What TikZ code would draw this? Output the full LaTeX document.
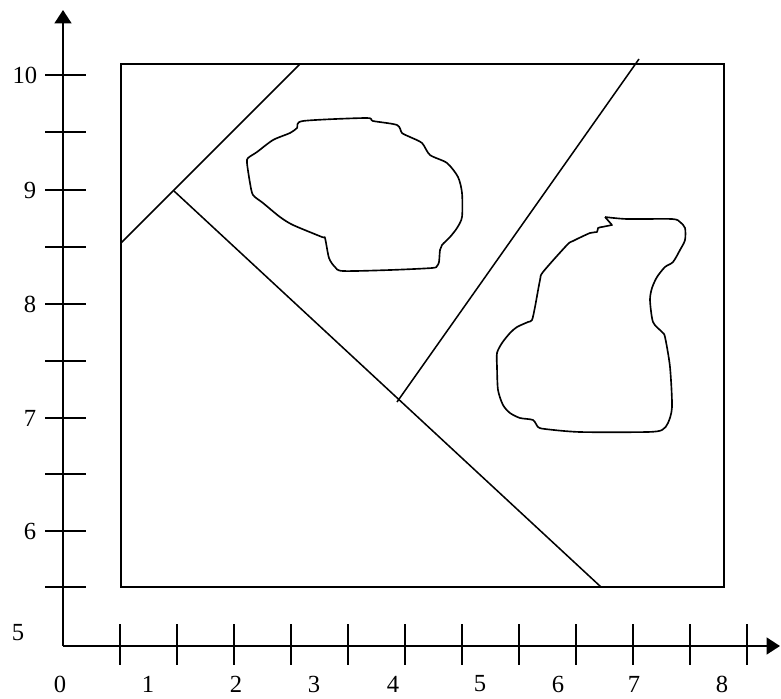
\documentclass[tikz,border=0pt]{standalone}
\usepackage{fontspec}
\setmainfont{Liberation Serif}
\usetikzlibrary{arrows.meta}
\begin{document}
\begin{tikzpicture}[x=0.03cm,y=-0.03cm,
  axisline/.style={line width=2pt,-{Triangle[length=0.4cm,width=0.5cm]}},
  tickline/.style={line width=1.4pt},
  thinline/.style={line width=1.3pt},
  blobline/.style={line width=1.4pt,line join=round},
  lbl/.style={inner sep=0pt,font=\fontsize{21}{25}\selectfont}]
\useasboundingbox (0,0) rectangle (781,699);
% axes
\coordinate (O) at (63,646);
\coordinate (Ytip) at (63,10);
\coordinate (Xtip) at (780,646);
\draw[axisline] (O) -- (Ytip);
\draw[axisline] (O) -- (Xtip);
% y ticks
\foreach \y in {75,132,190,247,304,361,418,474,531,587}
  \draw[tickline] (45,\y) -- (86,\y);
% x ticks
\foreach \x in {120,177,234,291,348,405,462,519,576,633,690,747}
  \draw[tickline] (\x,624) -- (\x,665);
% y labels
\node[lbl] (y10) at (25,75) {10};
\node[lbl] (y9) at (30,190) {9};
\node[lbl] (y8) at (30,304) {8};
\node[lbl] (y7) at (30,418) {7};
\node[lbl] (y6) at (30,531) {6};
\node[lbl] (y5) at (18,633) {5};
% x labels
\node[lbl] (x0) at (60,684) {0};
\node[lbl] (x1) at (148,684) {1};
\node[lbl] (x2) at (236,684) {2};
\node[lbl] (x3) at (314,684) {3};
\node[lbl] (x4) at (393,684) {4};
\node[lbl] (x5) at (480,684) {5};
\node[lbl] (x6) at (558,684) {6};
\node[lbl] (x7) at (634,684) {7};
\node[lbl] (x8) at (722,684) {8};
% rectangle
\draw[thinline] (121,64) rectangle (724,587);
% lines
\coordinate (A1) at (121,243);
\coordinate (A2) at (300,64);
\coordinate (B1) at (174,191);
\coordinate (B2) at (601,587);
\coordinate (C1) at (639,59);
\coordinate (C2) at (397,402);
\draw[thinline] (A1) -- (A2);
\draw[thinline] (B1) -- (B2);
\draw[thinline] (C1) -- (C2);
% blob 1
\draw[blobline] plot[smooth cycle,tension=0.45] coordinates {
 (303,121) (366,118) (373,121) (397,125) (402,133) (410,137) (422,143)
 (430,155) (447,163) (458,177) (462,193) (462,217) (457,228) (450,237)
 (442,245) (440,250) (439,262) (437,266) (432,268) (390,270) (343,271)
 (335,267) (329,258) (325,238) (322,237) (293,225) (280,217) (263,203)
 (253,195) (250,183) (247,163) (248,158) (257,152) (273,140) (290,133)
 (297,128)};
% blob 2
\draw[blobline] (605,217) -- (612,225) -- (602,227)
 plot[smooth,tension=0.45] coordinates {
 (602,227) (598,228) (597,232) (590,233) (573,241) (567,245) (543,272)
 (540,280) (535,307) (532,320) (528,322) (517,327) (510,333) (502,343)
 (497,353) (497,367) (498,390) (503,405) (510,413) (520,418) (533,420)
 (538,427) (545,429) (580,432) (647,432) (662,430) (668,423) (672,407)
 (670,367) (665,337) (662,332) (653,322) (650,300) (652,288) (657,277)
 (665,267) (673,262) (680,250) (685,240) (685,228) (680,222) (672,219)
 (627,219) (605,217)};
\end{tikzpicture}
\end{document}
